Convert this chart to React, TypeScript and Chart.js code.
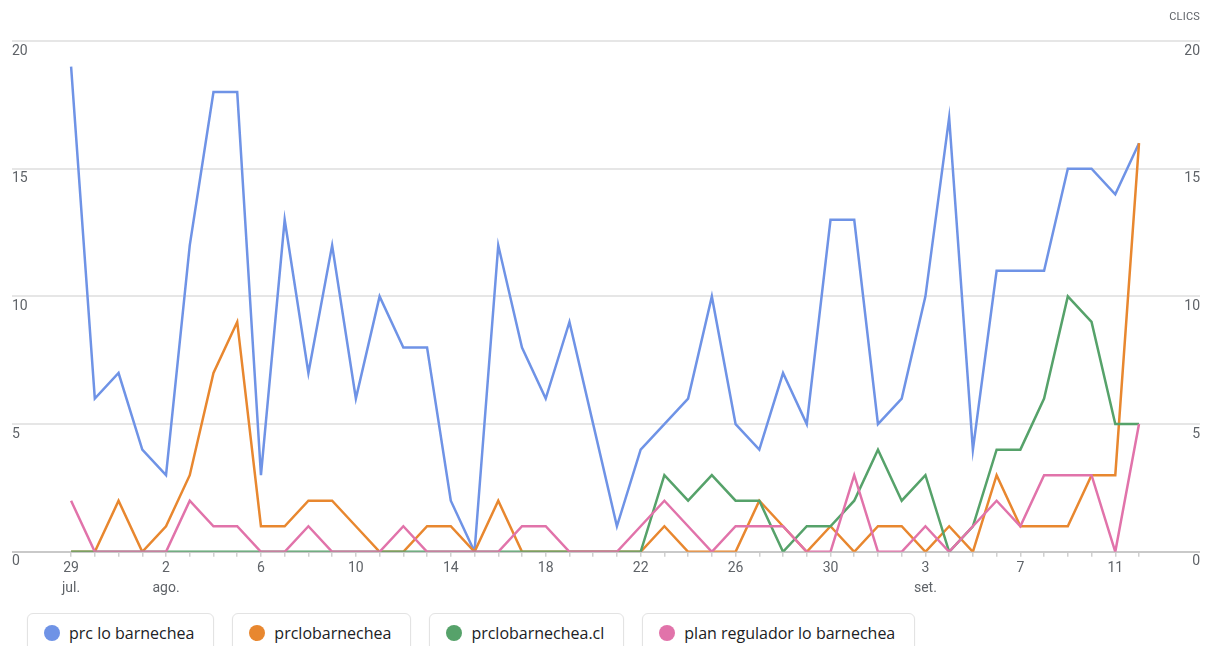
import React, { useEffect, useRef } from 'react';
import { Chart, registerables } from 'chart.js';

Chart.register(...registerables);

// Days from 29 jul. to 12 set.
const dayNumbers = [
  29, 30, 31,
  1, 2, 3, 4, 5, 6, 7, 8, 9, 10, 11, 12, 13, 14, 15, 16, 17, 18, 19, 20, 21, 22, 23, 24, 25, 26, 27, 28, 29, 30, 31,
  1, 2, 3, 4, 5, 6, 7, 8, 9, 10, 11, 12,
];
const monthStarts: Record<number, string> = { 0: 'jul.', 4: 'ago.', 36: 'set.' };
const tickEvery = 4;

const seriesNames = ['prc lo barnechea', 'prclobarnechea', 'prclobarnechea.cl', 'plan regulador lo barnechea'];
const prcLoBarnechea = [19, 6, 7, 4, 3, 12, 18, 18, 3, 13, 7, 12, 6, 10, 8, 8, 2, 0, 12, 8, 6, 9, 5, 1, 4, 5, 6, 10, 5, 4, 7, 5, 13, 13, 5, 6, 10, 17, 4, 11, 11, 11, 15, 15, 14, 16];
const prclobarnechea = [0, 0, 2, 0, 1, 3, 7, 9, 1, 1, 2, 2, 1, 0, 0, 1, 1, 0, 2, 0, 0, 0, 0, 0, 0, 1, 0, 0, 0, 2, 1, 0, 1, 0, 1, 1, 0, 1, 0, 3, 1, 1, 1, 3, 3, 16];
const prclobarnecheaCl = [0, 0, 0, 0, 0, 0, 0, 0, 0, 0, 0, 0, 0, 0, 0, 0, 0, 0, 0, 0, 0, 0, 0, 0, 0, 3, 2, 3, 2, 2, 0, 1, 1, 2, 4, 2, 3, 0, 1, 4, 4, 6, 10, 9, 5, 5];
const planRegulador = [2, 0, 0, 0, 0, 2, 1, 1, 0, 0, 1, 0, 0, 0, 1, 0, 0, 0, 0, 1, 1, 0, 0, 0, 1, 2, 1, 0, 1, 1, 1, 0, 0, 3, 0, 0, 1, 0, 1, 2, 1, 3, 3, 3, 0, 5];
const yTicks = [0, 5, 10, 15, 20];

const colors = ['#6f93e6', '#e8872f', '#56a26a', '#e173aa'];
const allSeries = [prcLoBarnechea, prclobarnechea, prclobarnecheaCl, planRegulador];

const FONT = 'Roboto, "Noto Sans", sans-serif';
const LEGEND_FONT = '"Open Sans", Roboto, sans-serif';
const LABEL_COLOR = '#5f6368';

export default function App() {
  const canvasRef = useRef<HTMLCanvasElement | null>(null);

  useEffect(() => {
    document.body.style.margin = '0';
    const canvas = canvasRef.current;
    if (!canvas) return;
    const n = dayNumbers.length;
    const datasets = allSeries.map((values, s) => ({
      label: seriesNames[s],
      data: values.map((v, i) => ({ x: i, y: v })),
      borderColor: colors[s],
      backgroundColor: colors[s],
      borderWidth: 2.5,
      pointRadius: 0,
      tension: 0,
      order: allSeries.length - s,
      yAxisID: 'y',
    }));
    const chart = new Chart(canvas, {
      type: 'line',
      data: { datasets },
      options: {
        animation: false,
        responsive: false,
        events: [],
        layout: { padding: { top: 41, left: 12, right: 9, bottom: 4 } },
        plugins: { legend: { display: false }, tooltip: { enabled: false } },
        scales: {
          x: {
            type: 'linear',
            min: -2.49,
            max: n - 1 + 2.57,
            afterBuildTicks: (scale: any) => {
              scale.ticks = dayNumbers.map((_, i) => ({ value: i }));
            },
            border: { display: false },
            grid: {
              drawOnChartArea: false,
              drawTicks: true,
              tickLength: 5,
              tickColor: '#d0d0d0',
              lineWidth: 1.5,
            },
            ticks: {
              autoSkip: false,
              maxRotation: 0,
              padding: 2,
              color: LABEL_COLOR,
              font: { family: FONT, size: 14, lineHeight: 1.4 },
              callback: (value: any) => {
                const i = Number(value);
                if (i % tickEvery !== 0) return '';
                const d = String(dayNumbers[i]);
                return monthStarts[i] ? [d, monthStarts[i]] : d;
              },
            },
          },
          y: {
            position: 'left',
            min: 0,
            max: 20,
            afterBuildTicks: (scale: any) => {
              scale.ticks = yTicks.map((v) => ({ value: v }));
            },
            border: { display: false },
            grid: {
              drawTicks: false,
              lineWidth: 2,
              color: (ctx: any) => (ctx.tick && ctx.tick.value === 0 ? '#c9c9c9' : '#e6e6e6'),
            },
            ticks: {
              mirror: true,
              padding: 0,
              labelOffset: 10,
              color: LABEL_COLOR,
              font: { family: FONT, size: 14 },
            },
          },
          y2: {
            position: 'right',
            min: 0,
            max: 20,
            afterBuildTicks: (scale: any) => {
              scale.ticks = yTicks.map((v) => ({ value: v }));
            },
            border: { display: false },
            grid: { display: false, drawTicks: false },
            ticks: {
              mirror: true,
              padding: 0,
              labelOffset: 10,
              color: LABEL_COLOR,
              font: { family: FONT, size: 14 },
            },
          },
        },
      },
    } as any);
    return () => chart.destroy();
  }, []);

  return (
    <div style={{ position: 'absolute', left: 0, top: 0, width: 1209, height: 646, background: '#fff', overflow: 'hidden', fontFamily: FONT }}>
      <canvas ref={canvasRef} width={1209} height={604} style={{ position: 'absolute', left: 0, top: 0, width: 1209, height: 604 }} />
      <div style={{ position: 'absolute', right: 9, top: 10, fontSize: 11, color: LABEL_COLOR, letterSpacing: 0.2 }}>CLICS</div>
      <div style={{ position: 'absolute', left: 27, top: 613, display: 'flex', gap: 18 }}>
        {seriesNames.map((name, s) => (
          <div
            key={name}
            style={{
              display: 'flex',
              alignItems: 'center',
              height: 40,
              padding: '0 19px 0 16px',
              boxSizing: 'border-box',
              border: '1px solid #e3e3e3',
              borderRadius: 6,
              boxShadow: '0 1px 2px rgba(0,0,0,0.06)',
              background: '#fff',
            }}
          >
            <span style={{ width: 16, height: 16, borderRadius: '50%', background: colors[s], display: 'inline-block', marginRight: 9 }} />
            <span style={{ fontFamily: LEGEND_FONT, fontSize: 16, color: '#202124', whiteSpace: 'nowrap', lineHeight: '20px', marginTop: -1 }}>{name}</span>
          </div>
        ))}
      </div>
    </div>
  );
}
